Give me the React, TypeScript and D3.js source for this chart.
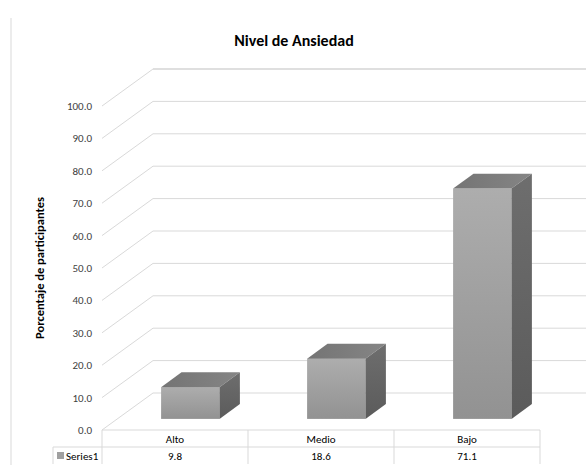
import React from "react";
import * as d3 from "d3";

// chart data
const categories = ["Alto", "Medio", "Bajo"];
const values = [9.8, 18.6, 71.1];
const seriesName = "Series1";
const yTicks = d3.range(0, 101, 10);

const W = 586;
const H = 465;
const font = "Calibri, Carlito, Lato, 'Open Sans', sans-serif";

// 3D depth offset of the whole plot box
const depthX = 51;
const depthY = -37;
// bar occupies this slice of the depth
const barFront = 0.3;
const barBack = 0.7;

const App = () => {
  const x = d3.scaleBand().domain(categories).range([102, 540]).padding(0);
  const y = d3.scaleLinear().domain([0, 100]).range([430, 106]);
  const barW = x.bandwidth() * 0.4;

  const off = (f: number) => [depthX * f, depthY * f];
  const [fx, fy] = off(barFront);
  const [bx, by] = off(barBack);

  const tableTop = y(0);
  const rowH = 17;

  return (
    <svg width={W} height={H} style={{ display: "block", position: "absolute", left: 0, top: 0 }}>
      <defs>
        <linearGradient id="front" x1="0" y1="0" x2="0" y2="1">
          <stop offset="0%" stopColor="#adadad" />
          <stop offset="100%" stopColor="#929292" />
        </linearGradient>
        <linearGradient id="side" x1="0" y1="0" x2="0" y2="1">
          <stop offset="0%" stopColor="#6e6e6e" />
          <stop offset="100%" stopColor="#5b5b5b" />
        </linearGradient>
        <linearGradient id="top" x1="0" y1="0" x2="1" y2="0">
          <stop offset="0%" stopColor="#747474" />
          <stop offset="100%" stopColor="#858585" />
        </linearGradient>
      </defs>
      <rect width={W} height={H} fill="#fff" />
      <line x1={11} x2={11} y1={18} y2={H} stroke="#d9d9d9" />

      <text x={294} y={46} textAnchor="middle" fontFamily={font} fontWeight="bold" fontSize={16}>
        Nivel de Ansiedad
      </text>
      <text
        transform={`translate(44, 268) rotate(-90)`}
        textAnchor="middle"
        fontFamily={font}
        fontWeight="bold"
        fontSize={12.5}
      >
        Porcentaje de participantes
      </text>

      {/* back wall gridlines and diagonals */}
      {yTicks.map((t) => (
        <g key={t}>
          <line
            x1={x.range()[0]}
            y1={y(t)}
            x2={x.range()[0] + depthX}
            y2={y(t) + depthY}
            stroke="#d9d9d9"
          />
          <line
            x1={x.range()[0] + depthX}
            y1={y(t) + depthY}
            x2={x.range()[1] + depthX}
            y2={y(t) + depthY}
            stroke={t === 100 ? "#bfbfbf" : "#d9d9d9"}
          />
          <text
            x={92}
            y={y(t) + 4}
            textAnchor="end"
            fontFamily={font}
            fontSize={11}
            fill="#404040"
          >
            {t.toFixed(1)}
          </text>
        </g>
      ))}

      {/* bars */}
      {categories.map((c, i) => {
        const x0 = x(c)! + (x.bandwidth() - barW) / 2 + fx;
        const x1 = x0 + barW;
        const yb = y(0) + fy;
        const yt = y(values[i]) + fy;
        const dx = bx - fx;
        const dy = by - fy;
        return (
          <g key={c}>
            <rect x={x0} y={yt} width={barW} height={yb - yt} fill="url(#front)" />
            <polygon
              points={`${x0},${yt} ${x1},${yt} ${x1 + dx},${yt + dy} ${x0 + dx},${yt + dy}`}
              fill="url(#top)"
            />
            <polygon
              points={`${x1},${yt} ${x1 + dx},${yt + dy} ${x1 + dx},${yb + dy} ${x1},${yb}`}
              fill="url(#side)"
            />
          </g>
        );
      })}

      {/* data table */}
      <g fontFamily={font} fontSize={11} fill="#000">
        <line x1={x.range()[0]} x2={x.range()[1]} y1={tableTop} y2={tableTop} stroke="#d9d9d9" />
        <line x1={53} x2={x.range()[1]} y1={tableTop + rowH} y2={tableTop + rowH} stroke="#d9d9d9" />
        <line x1={53} x2={53} y1={tableTop + rowH} y2={tableTop + 2 * rowH} stroke="#d9d9d9" />
        {categories.map((c) => (
          <line
            key={c}
            x1={x(c)!}
            x2={x(c)!}
            y1={tableTop}
            y2={tableTop + 2 * rowH}
            stroke="#d9d9d9"
          />
        ))}
        <line
          x1={x.range()[1]}
          x2={x.range()[1]}
          y1={tableTop}
          y2={tableTop + 2 * rowH}
          stroke="#d9d9d9"
        />
        {categories.map((c, i) => (
          <g key={c}>
            <text x={x(c)! + x.bandwidth() / 2} y={tableTop + 13} textAnchor="middle">
              {c}
            </text>
            <text x={x(c)! + x.bandwidth() / 2} y={tableTop + rowH + 13} textAnchor="middle">
              {values[i].toFixed(1)}
            </text>
          </g>
        ))}
        <rect x={57} y={tableTop + rowH + 5} width={7} height={7} fill="#a0a0a0" />
        <text x={66} y={tableTop + rowH + 13}>
          {seriesName}
        </text>
      </g>
    </svg>
  );
};

export default App;
